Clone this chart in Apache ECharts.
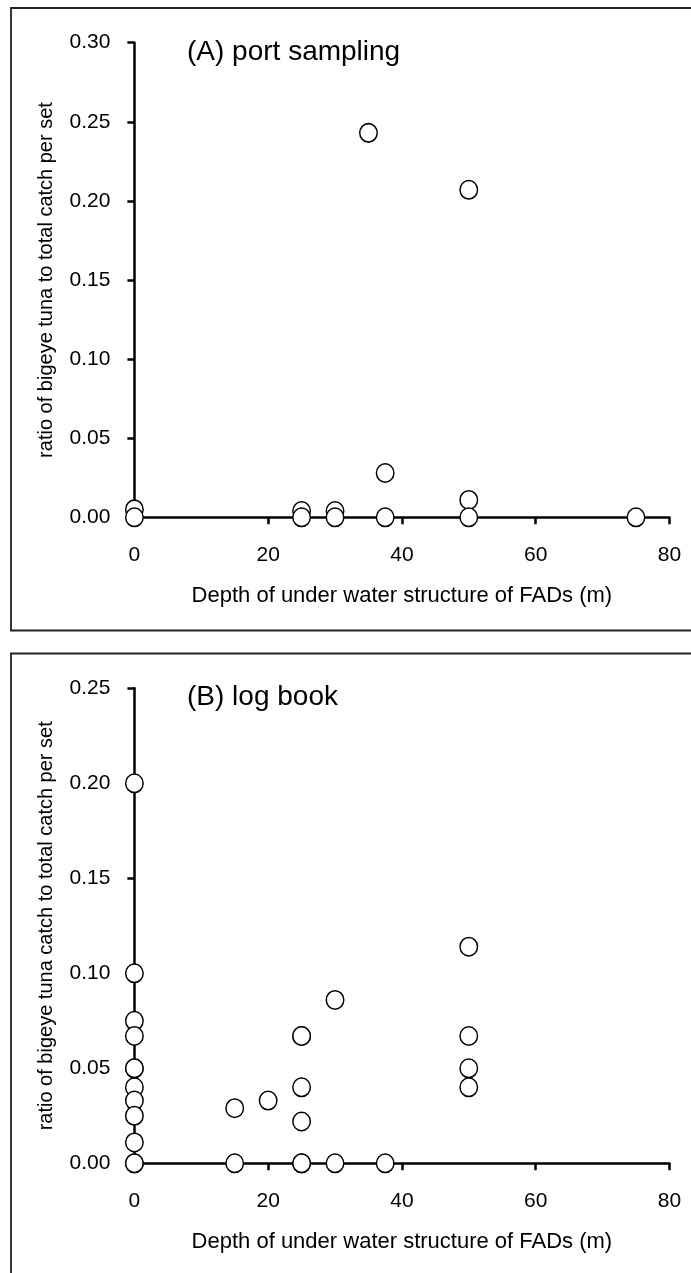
<!DOCTYPE html>
<html>
<head>
<meta charset="utf-8">
<script src="https://cdn.jsdelivr.net/npm/echarts@6/dist/echarts.min.js"></script>
<style>
  html, body { margin: 0; padding: 0; background: #fff; }
  #chart { width: 691px; height: 1273px; }
</style>
</head>
<body>
<div id="chart"></div>
<script>
// (A) port sampling
const depthA = [0, 0, 25, 25, 30, 30, 35, 37.5, 37.5, 50, 50, 50, 75];
const ratioA = [0.005, 0, 0.004, 0, 0.004, 0, 0.243, 0.028, 0, 0.207, 0.011, 0, 0];

// (B) log book
const depthB = [0, 0, 0, 0, 0, 0, 0, 0, 0, 0, 0, 0, 15, 15, 20, 25, 25, 25, 25, 25, 25, 30, 30, 37.5, 50, 50, 50, 50];
const ratioB = [0.2, 0.1, 0.075, 0.067, 0.05, 0.05, 0.04, 0.033, 0.025, 0.011, 0, 0, 0.029, 0, 0.033, 0.067, 0.067, 0.04, 0.022, 0, 0, 0.086, 0, 0, 0.114, 0.067, 0.05, 0.04];

const xTitle = "Depth of under water structure of FADs (m)";
const yTitleA = "ratio of bigeye tuna to total catch per set";
const yTitleB = "ratio of bigeye tuna catch to total catch per set";

const FONT = "Liberation Sans, Arial, sans-serif";

function pairs(xs, ys) {
  return xs.map((x, i) => [x, ys[i]]);
}

function xAxisOf(idx) {
  return {
    gridIndex: idx, type: "value", min: 0, max: 80, interval: 20,
    name: xTitle, nameLocation: "middle", nameGap: 68,
    nameTextStyle: { color: "#000", fontSize: 22, fontFamily: FONT },
    axisLine: { onZero: false, lineStyle: { color: "#000", width: 2.5 } },
    axisTick: { show: true, inside: false, length: 7, lineStyle: { color: "#000", width: 2.5 } },
    axisLabel: { color: "#000", fontSize: 21, fontFamily: FONT, margin: 27 },
    splitLine: { show: false }
  };
}

function yAxisOf(idx, max, name) {
  return {
    gridIndex: idx, type: "value", min: 0, max: max, interval: 0.05,
    name: name, nameLocation: "middle", nameRotate: 90, nameGap: 78,
    nameTextStyle: { color: "#000", fontSize: 20, fontFamily: FONT },
    axisLine: { show: true, onZero: false, lineStyle: { color: "#000", width: 2.5 } },
    axisTick: { show: true, inside: false, length: 7, lineStyle: { color: "#000", width: 2.5 } },
    axisLabel: { color: "#000", fontSize: 21, fontFamily: FONT, margin: 24,
      formatter: v => v.toFixed(2) },
    splitLine: { show: false }
  };
}

function dots(idx, data) {
  return {
    type: "scatter", xAxisIndex: idx, yAxisIndex: idx,
    data: data, symbol: "circle", symbolSize: [17.5, 18.5],
    itemStyle: { color: "#fff", borderColor: "#000", borderWidth: 1.5, opacity: 1 },
    emphasis: { disabled: true }
  };
}

const chart = echarts.init(document.getElementById("chart"));
chart.setOption({
  animation: false,
  backgroundColor: "#fff",
  grid: [
    { left: 134.4, top: 42.7, width: 535, height: 474.6 },
    { left: 134.4, top: 688.3, width: 535, height: 475 }
  ],
  xAxis: [xAxisOf(0), xAxisOf(1)],
  yAxis: [yAxisOf(0, 0.30, yTitleA), yAxisOf(1, 0.25, yTitleB)],
  series: [dots(0, pairs(depthA, ratioA)), dots(1, pairs(depthB, ratioB))],
  graphic: [
    { type: "rect", shape: { x: 11, y: 8, width: 720, height: 622.5 },
      style: { fill: "none", stroke: "#222", lineWidth: 1.8 }, silent: true },
    { type: "rect", shape: { x: 11, y: 653.5, width: 720, height: 700 },
      style: { fill: "none", stroke: "#222", lineWidth: 1.8 }, silent: true },
    { type: "text", x: 187, y: 52.5,
      style: { text: "(A) port sampling", font: "28px " + FONT, fill: "#000", verticalAlign: "middle" } },
    { type: "text", x: 187, y: 697,
      style: { text: "(B) log book", font: "28px " + FONT, fill: "#000", verticalAlign: "middle" } }
  ]
});
</script>
</body>
</html>
